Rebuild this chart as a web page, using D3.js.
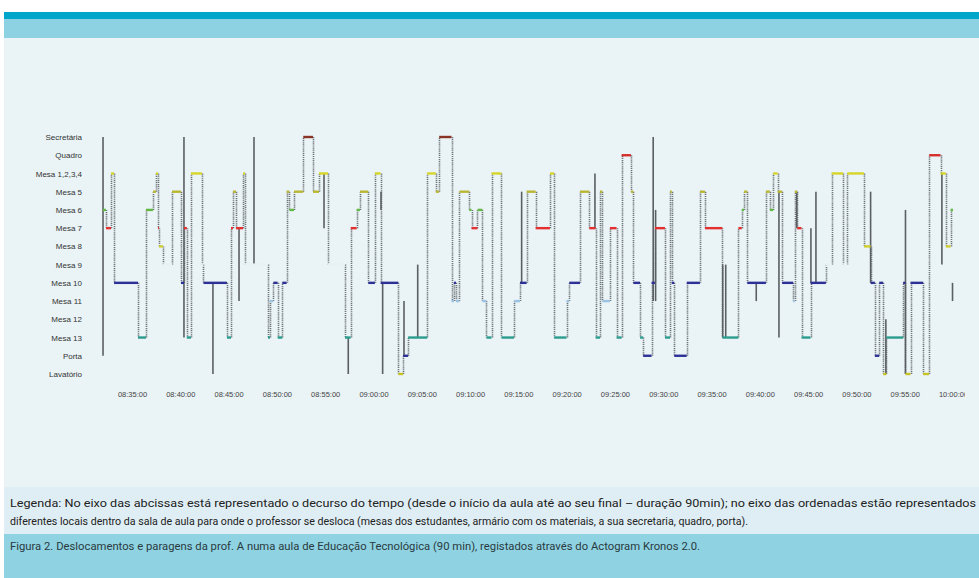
<!DOCTYPE html>
<html><head><meta charset="utf-8">
<script src="https://cdn.jsdelivr.net/npm/d3@7"></script>
<style>body{margin:0;background:#fff;} svg{display:block;}</style>
</head><body><svg id="c" width="979" height="578"></svg>
<script>
// Locations (y categories), top to bottom
const locations = ["Secretária","Quadro","Mesa 1,2,3,4","Mesa 5","Mesa 6","Mesa 7","Mesa 8","Mesa 9","Mesa 10","Mesa 11","Mesa 12","Mesa 13","Porta","Lavatório"];
const locationColors = ["#8a3424","#d4302c","#d6d628","#b9b632","#62b944","#e4312f","#cfcd30","#e8f2f5","#2d3196","#9bc3e3","#9aa6ac","#2a9d8e","#2d3196","#c9c226"];
// X tick labels (every 5 min)
const tickLabels = ["08:35:00","08:40:00","08:45:00","08:50:00","08:55:00","09:00:00","09:05:00","09:10:00","09:15:00","09:20:00","09:25:00","09:30:00","09:35:00","09:40:00","09:45:00","09:50:00","09:55:00","10:00:00"];
// Stops: start time (minutes after 08:30) and location index
const stopMinutes = [2.0,2.31,2.83,3.14,5.62,6.45,7.17,7.48,7.69,7.79,8.21,9.14,10.07,10.38,10.68,11.1,12.25,12.4,14.83,15.25,15.46,15.77,16.5,16.7,19.08,19.29,19.63,20.08,20.56,21.01,21.28,21.77,22.73,23.74,24.36,25.3,27.05,27.64,28.26,28.6,29.46,30.15,30.74,32.57,33.07,33.59,35.56,36.46,36.8,38.08,38.33,38.54,38.9,39.92,40.15,40.77,41.28,41.7,42.22,43.25,44.55,45.17,45.86,46.79,48.27,48.7,49.99,50.27,51.38,52.34,53.0,53.45,53.69,54.48,55.17,55.69,56.66,56.9,57.6,57.92,58.79,59.14,60.18,60.7,60.88,61.14,62.43,63.8,64.32,66.12,67.78,68.13,68.37,68.7,70.63,71.04,71.39,71.84,72.31,73.45,73.63,73.87,74.32,75.25,76.84,77.43,78.63,79.05,80.78,81.47,81.91,82.36,82.77,83.1,84.84,85.08,85.6,86.91,87.53,88.71,89.26,89.75];
const stopLocation = [4,5,2,8,11,4,3,2,5,6,7,3,8,5,11,2,7,8,11,5,3,5,2,7,11,9,8,11,8,3,4,3,0,3,2,7,11,5,4,3,8,2,8,13,12,11,2,3,0,9,8,9,3,4,5,4,9,11,2,11,9,8,3,5,2,11,9,8,3,5,11,3,9,5,11,1,3,8,11,12,8,5,11,3,8,12,8,3,5,11,5,4,3,8,3,4,2,3,8,9,3,5,11,8,7,2,7,2,6,8,12,8,13,11,8,13,8,13,1,2,6,4];
const endMinute = 90.0;
// Brief excursions (solid lines): time, from location, to location
const spikeMinutes = [2.0,10.38,13.38,16.08,17.63,24.88,27.39,30.78,30.95,33.16,34.58,45.34,52.93,58.96,59.21,66.16,66.47,69.63,71.98,73.82,75.29,75.81,81.47,83.05,85.08,88.85,89.95];
const spikeFrom = [0,0,8,5,0,2,11,3,8,9,7,3,2,0,4,7,7,8,3,3,5,3,3,10,4,2,8];
const spikeTo   = [12,11,13,9,7,5,13,4,13,12,11,8,5,9,9,11,11,9,11,5,8,8,8,13,13,7,9];

const svg = d3.select("#c");
const W = 979, H = 578;
const base = new Date(2020,0,1,8,30,0);
const toDate = m => new Date(base.getTime() + m*60000);

// background panels
svg.append("rect").attr("x",4).attr("y",12).attr("width",W-4).attr("height",7).attr("fill","#00a5ca");
svg.append("rect").attr("x",4).attr("y",19).attr("width",W-4).attr("height",19).attr("fill","#8dd2e2");
svg.append("rect").attr("x",4).attr("y",38).attr("width",W-4).attr("height",449).attr("fill","#eaf3f6");
svg.append("rect").attr("x",4).attr("y",487).attr("width",W-4).attr("height",47).attr("fill","#dfeef4");
svg.append("rect").attr("x",4).attr("y",534).attr("width",W-4).attr("height",44).attr("fill","#8fd3e3");

const x = d3.scaleTime().domain([toDate(5), toDate(90)]).range([132, 953]);
const y = d3.scalePoint().domain(locations).range([137, 374]);

svg.append("clipPath").attr("id","clip").append("rect").attr("x",0).attr("y",0).attr("width",965).attr("height",H);

// x axis with gridlines
const tickDates = tickLabels.map(s => { const [h,m] = s.split(":").map(Number); return new Date(2020,0,1,h,m,0); });
const xAxis = d3.axisBottom(x).tickValues(tickDates).tickFormat((d,i)=>tickLabels[i]).tickSizeInner(-268).tickSizeOuter(0).tickPadding(4);
const gx = svg.append("g").attr("transform","translate(0,388)").attr("clip-path","url(#clip)").call(xAxis);
gx.select(".domain").remove();
gx.selectAll(".tick line").attr("stroke","#b5c3ca").attr("stroke-width",1);
gx.selectAll(".tick text").attr("fill","#444").attr("font-size","7.5px").attr("font-family","Liberation Sans, Arial, sans-serif");

// y axis labels
const yAxis = d3.axisLeft(y).tickSize(0).tickPadding(0);
const gy = svg.append("g").attr("transform","translate(82,0)").call(yAxis);
gy.select(".domain").remove();
gy.selectAll(".tick text").attr("fill","#333").attr("font-size","8px").attr("font-family","Liberation Sans, Arial, sans-serif");

// build segments
const stops = stopMinutes.map((m,i)=>({t0:m, t1:(i<stopMinutes.length-1?stopMinutes[i+1]:endMinute), loc:locations[stopLocation[i]], li:stopLocation[i]}));
const moves = stops.slice(0,-1).map((s,i)=>({t:stops[i+1].t0, a:s.loc, b:stops[i+1].loc}));

const plot = svg.append("g");
plot.selectAll("line.move").data(moves).join("line").attr("class","move")
  .attr("x1",d=>Math.round(x(toDate(d.t)))+0.5).attr("x2",d=>Math.round(x(toDate(d.t)))+0.5)
  .attr("y1",d=>y(d.a)).attr("y2",d=>y(d.b))
  .attr("stroke","#6d7479").attr("stroke-width",1.6).attr("stroke-dasharray","1.2,0.9");

const spikes = spikeMinutes.map((m,i)=>({t:m, a:locations[spikeFrom[i]], b:locations[spikeTo[i]]}));
plot.selectAll("line.spike").data(spikes).join("line").attr("class","spike")
  .attr("x1",d=>x(toDate(d.t))).attr("x2",d=>x(toDate(d.t)))
  .attr("y1",d=>y(d.a)).attr("y2",d=>y(d.b))
  .attr("stroke","#5a5f63").attr("stroke-width",1.6);

plot.selectAll("line.stop").data(stops).join("line").attr("class","stop")
  .attr("x1",d=>x(toDate(d.t0))).attr("x2",d=>x(toDate(d.t1)))
  .attr("y1",d=>y(d.loc)).attr("y2",d=>y(d.loc))
  .attr("stroke",d=>locationColors[d.li]).attr("stroke-width",2.4);

// captions
const cap = svg.append("g").attr("font-family","Roboto, sans-serif").attr("fill","#222");
cap.append("text").attr("x",10).attr("y",507).attr("font-size","10.5px").attr("textLength",966).attr("lengthAdjust","spacingAndGlyphs")
  .text("Legenda: No eixo das abcissas está representado o decurso do tempo (desde o início da aula até ao seu final – duração 90min); no eixo das ordenadas estão representados");
cap.append("text").attr("x",10).attr("y",525).attr("font-size","10.5px").attr("textLength",738).attr("lengthAdjust","spacingAndGlyphs")
  .text("diferentes locais dentro da sala de aula para onde o professor se desloca (mesas dos estudantes, armário com os materiais, a sua secretaria, quadro, porta).");
cap.append("text").attr("x",10).attr("y",550).attr("font-size","10.5px").attr("fill","#2a3a40").attr("textLength",690).attr("lengthAdjust","spacingAndGlyphs")
  .text("Figura 2. Deslocamentos e paragens da prof. A numa aula de Educação Tecnológica (90 min), registados através do Actogram Kronos 2.0.");
</script></body></html>
